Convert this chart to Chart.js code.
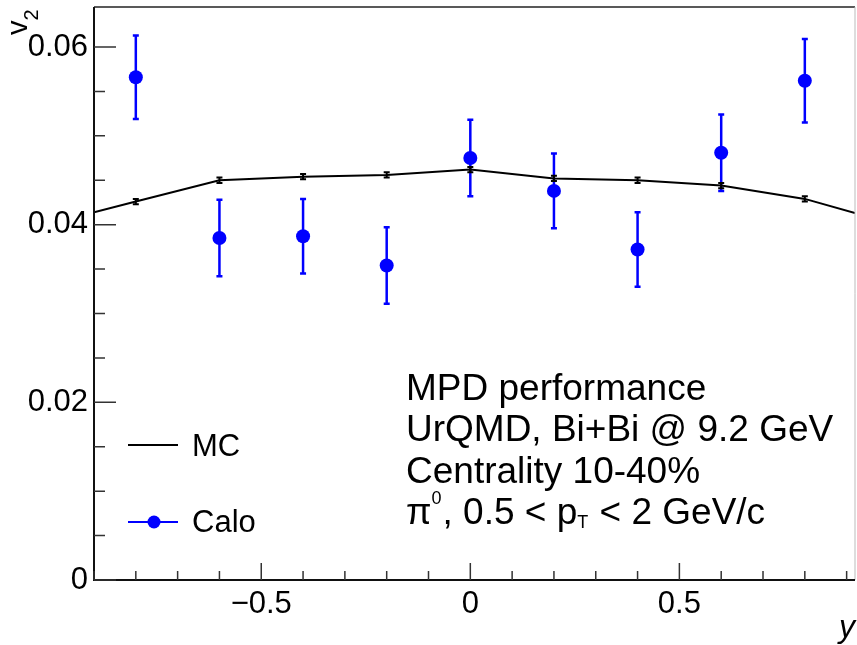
<!DOCTYPE html>
<html><head><meta charset="utf-8">
<script src="https://cdn.jsdelivr.net/npm/chart.js@4.4.1/dist/chart.umd.min.js"></script>
<style>html,body{margin:0;padding:0;background:#fff}#wrap{width:857px;height:645px;position:relative}</style>
</head><body><div id="wrap"><canvas id="c"></canvas></div>
<script>
// ---- data ----
const mcX   = [-0.9, -0.8, -0.6, -0.4, -0.2, 0.0, 0.2, 0.4, 0.6, 0.8, 0.92];
const mcY   = [0.0414, 0.0426, 0.0450, 0.0454, 0.0456, 0.0462, 0.0452, 0.0450, 0.0444, 0.0429, 0.0413];
const mcErr = [0, 0.0003, 0.0003, 0.0003, 0.0003, 0.0003, 0.0003, 0.0003, 0.0003, 0.0003, 0];

const caloX   = [-0.8, -0.6, -0.4, -0.2, 0.0, 0.2, 0.4, 0.6, 0.8];
const caloY   = [0.0566, 0.0385, 0.0387, 0.0354, 0.0475, 0.0438, 0.0372, 0.0481, 0.0562];
const caloErr = [0.0047, 0.0043, 0.0042, 0.0043, 0.0043, 0.0042, 0.0042, 0.0043, 0.0047];

const xTickValues = [-0.9,-0.8,-0.7,-0.6,-0.5,-0.4,-0.3,-0.2,-0.1,0,0.1,0.2,0.3,0.4,0.5,0.6,0.7,0.8,0.9];
const xMajor = [-0.5, 0, 0.5];
const xMajorLabels = ['\u22120.5', '0', '0.5'];
const yTickValues = [0,0.005,0.01,0.015,0.02,0.025,0.03,0.035,0.04,0.045,0.05,0.055,0.06];
const yMajor = [0, 0.02, 0.04, 0.06];
const yMajorLabels = ['0', '0.02', '0.04', '0.06'];

const seriesNames = ['MC', 'Calo'];
const infoLines = ['MPD performance', 'UrQMD, Bi+Bi @ 9.2 GeV', 'Centrality 10-40%'];

const FONT = '"Liberation Sans", Arial, Helvetica, sans-serif';
const BLUE = '#0000ff';

function majorIndex(list, v) {
  for (let i = 0; i < list.length; i++) if (Math.abs(list[i] - v) < 1e-9) return i;
  return -1;
}

const rootStyle = {
  id: 'rootStyle',
  beforeDatasetsDraw(chart) {
    const ctx = chart.ctx, xs = chart.scales.x, ys = chart.scales.y, a = chart.chartArea;
    ctx.save();
    ctx.beginPath(); ctx.rect(a.left, a.top, a.right - a.left, a.bottom - a.top); ctx.clip();
    const bars = [
      {x: caloX, y: caloY, e: caloErr, color: BLUE, w: 2.5, cap: 3},
      {x: mcX, y: mcY, e: mcErr, color: '#000', w: 2, cap: 3}
    ];
    bars.forEach(b => {
      ctx.strokeStyle = b.color; ctx.lineWidth = b.w;
      for (let i = 0; i < b.x.length; i++) {
        if (!b.e[i]) continue;
        const px = xs.getPixelForValue(b.x[i]);
        const p1 = ys.getPixelForValue(b.y[i] + b.e[i]);
        const p2 = ys.getPixelForValue(b.y[i] - b.e[i]);
        ctx.beginPath();
        ctx.moveTo(px, p1); ctx.lineTo(px, p2);
        ctx.moveTo(px - b.cap, p1); ctx.lineTo(px + b.cap, p1);
        ctx.moveTo(px - b.cap, p2); ctx.lineTo(px + b.cap, p2);
        ctx.stroke();
      }
    });
    ctx.restore();
  },
  afterDraw(chart) {
    const ctx = chart.ctx, xs = chart.scales.x, ys = chart.scales.y, a = chart.chartArea;
    ctx.save();
    // frame
    ctx.strokeStyle = '#222'; ctx.lineWidth = 1.5;
    ctx.beginPath(); ctx.moveTo(a.left, a.top); ctx.lineTo(a.right, a.top); ctx.stroke();
    ctx.strokeStyle = '#bbb'; ctx.lineWidth = 1;
    ctx.beginPath(); ctx.moveTo(a.right, a.top); ctx.lineTo(a.right, a.bottom); ctx.stroke();
    ctx.strokeStyle = '#111'; ctx.lineWidth = 2;
    ctx.beginPath(); ctx.moveTo(a.left, a.top); ctx.lineTo(a.left, a.bottom); ctx.lineTo(a.right, a.bottom); ctx.stroke();
    // ticks (inward)
    ctx.lineWidth = 1.5; ctx.strokeStyle = '#333';
    ctx.beginPath();
    xs.ticks.forEach(t => {
      const px = xs.getPixelForValue(t.value);
      const L = majorIndex(xMajor, t.value) >= 0 ? 17 : 9;
      ctx.moveTo(px, a.bottom); ctx.lineTo(px, a.bottom - L);
    });
    ys.ticks.forEach(t => {
      const py = ys.getPixelForValue(t.value);
      const L = majorIndex(yMajor, t.value) >= 0 ? 22 : 11;
      ctx.moveTo(a.left, py); ctx.lineTo(a.left + L, py);
    });
    ctx.stroke();
    // y-axis title v_2 (rotated)
    ctx.fillStyle = '#000';
    ctx.save();
    ctx.translate(27, 35); ctx.rotate(-Math.PI / 2);
    ctx.textBaseline = 'alphabetic'; ctx.textAlign = 'left';
    ctx.font = '29px ' + FONT; ctx.fillText('v', 0, 0);
    const vw = ctx.measureText('v').width;
    ctx.font = '20px ' + FONT; ctx.fillText('2', vw, 11);
    ctx.restore();
    // x-axis title
    ctx.font = 'italic 32px ' + FONT; ctx.textAlign = 'right'; ctx.textBaseline = 'alphabetic';
    ctx.fillText('y', 855, 637);
    // legend
    ctx.textAlign = 'left'; ctx.textBaseline = 'middle'; ctx.font = '31px ' + FONT;
    ctx.strokeStyle = '#000'; ctx.lineWidth = 2;
    ctx.beginPath(); ctx.moveTo(128, 445); ctx.lineTo(178, 445); ctx.stroke();
    ctx.fillText(seriesNames[0], 192, 447);
    ctx.strokeStyle = BLUE; ctx.lineWidth = 2;
    ctx.beginPath(); ctx.moveTo(128, 522); ctx.lineTo(178, 522); ctx.stroke();
    ctx.fillStyle = BLUE; ctx.beginPath(); ctx.arc(154, 522, 6.5, 0, Math.PI * 2); ctx.fill();
    ctx.fillStyle = '#000';
    ctx.fillText(seriesNames[1], 192, 523);
    // info text
    ctx.textBaseline = 'alphabetic';
    ctx.font = '37px ' + FONT;
    const bl = [400, 441, 483];
    infoLines.forEach((s, i) => ctx.fillText(s, 406, bl[i]));
    let x = 406; const y = 524;
    const big = '37px ' + FONT, small = '18px ' + FONT;
    const pieces = [
      {t: '\u03c0', f: big, dy: 0},
      {t: '0', f: small, dy: -20},
      {t: ', 0.5 < p', f: big, dy: 0},
      {t: 'T', f: small, dy: 4},
      {t: ' < 2 GeV/c', f: big, dy: 0}
    ];
    pieces.forEach(p => { ctx.font = p.f; ctx.fillText(p.t, x, y + p.dy); x += ctx.measureText(p.t).width + (p.f === small ? 1 : 0); });
    ctx.restore();
  }
};

new Chart(document.getElementById('c'), {
  type: 'scatter',
  data: {
    datasets: [
      {label: seriesNames[0], data: mcX.map((v, i) => ({x: v, y: mcY[i]})), showLine: true,
       borderColor: '#000', borderWidth: 2, pointRadius: 0, fill: false, tension: 0},
      {label: seriesNames[1], data: caloX.map((v, i) => ({x: v, y: caloY[i]})), showLine: false,
       pointRadius: 7, pointBackgroundColor: BLUE, pointBorderColor: BLUE, pointBorderWidth: 0}
    ]
  },
  options: {
    responsive: true, maintainAspectRatio: false, animation: false,
    layout: {autoPadding: false, padding: {left: 0, right: 2, top: 7, bottom: 0}},
    plugins: {legend: {display: false}, tooltip: {enabled: false}},
    scales: {
      x: {
        type: 'linear', min: -0.9, max: 0.92,
        grid: {display: false, drawTicks: false, tickLength: 0}, border: {display: false},
        afterBuildTicks: s => { s.ticks = xTickValues.map(v => ({value: v})); },
        afterFit: s => { s.height = 65; s.paddingLeft = 0; s.paddingRight = 0; },
        ticks: {autoSkip: false, maxRotation: 0, minRotation: 0, padding: 6, color: '#000',
          font: {family: FONT, size: 31},
          callback: v => { const i = majorIndex(xMajor, v); return i >= 0 ? xMajorLabels[i] : ''; }}
      },
      y: {
        type: 'linear', min: 0, max: 0.0645,
        grid: {display: false, drawTicks: false, tickLength: 0}, border: {display: false},
        afterBuildTicks: s => { s.ticks = yTickValues.map(v => ({value: v})); },
        afterFit: s => { s.width = 94; s.paddingTop = 0; s.paddingBottom = 0; },
        ticks: {autoSkip: false, padding: 6, color: '#000',
          font: {family: FONT, size: 31},
          callback: v => { const i = majorIndex(yMajor, v); return i >= 0 ? yMajorLabels[i] : ''; }}
      }
    }
  },
  plugins: [rootStyle]
});
</script></body></html>
